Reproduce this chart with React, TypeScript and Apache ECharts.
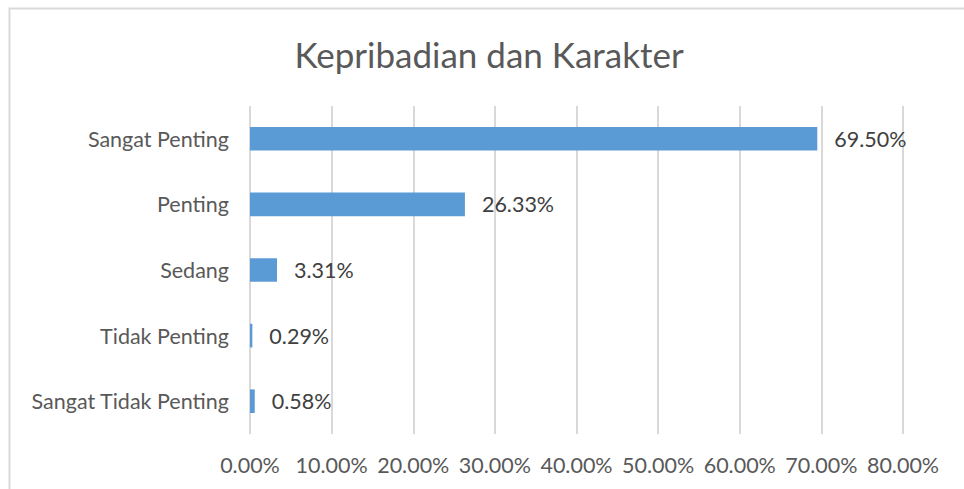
import React, { useEffect, useRef } from "react";
import * as echarts from "echarts";

const categories = ["Sangat Penting", "Penting", "Sedang", "Tidak Penting", "Sangat Tidak Penting"];
const values = [69.5, 26.33, 3.31, 0.29, 0.58];
const titleText = "Kepribadian dan Karakter";

export default function App() {
  const ref = useRef<HTMLDivElement>(null);
  useEffect(() => {
    if (!ref.current) return;
    const chart = echarts.init(ref.current, undefined, { renderer: "svg" });
    const font = "Lato, 'Open Sans', sans-serif";
    chart.setOption({
      animation: false,
      backgroundColor: "#ffffff",
      title: {
        text: titleText,
        left: 484,
        top: 31,
        textAlign: "center",
        textStyle: { fontFamily: font, fontSize: 35, fontWeight: "normal", color: "#595959" },
      },
      graphic: [
        {
          type: "rect",
          shape: { x: 9.5, y: 8.5, width: 1000, height: 1000 },
          style: { fill: "none", stroke: "#d9d9d9", lineWidth: 2 },
          silent: true,
        },
      ],
      grid: { left: 250, right: 61, top: 106, bottom: 55, containLabel: false },
      xAxis: {
        type: "value",
        min: 0,
        max: 80,
        interval: 10,
        axisLine: { show: false },
        axisTick: { show: false },
        splitLine: { show: true, lineStyle: { color: "#d9d9d9", width: 2 } },
        axisLabel: {
          formatter: (v: number) => v.toFixed(2) + "%",
          fontFamily: font,
          fontSize: 21.5,
          color: "#595959",
          margin: 20,
        },
      },
      yAxis: {
        type: "category",
        data: categories,
        inverse: true,
        axisLine: { show: false },
        axisTick: { show: false },
        splitLine: { show: false },
        axisLabel: {
          fontFamily: font,
          fontSize: 21.5,
          color: "#595959",
          margin: 21,
          padding: [3, 0, 0, 0],
        },
      },
      series: [
        {
          type: "bar",
          data: values,
          barCategoryGap: "64%",
          itemStyle: { color: "#5b9bd5" },
          label: {
            show: true,
            position: "right",
            distance: 17,
            padding: [3, 0, 0, 0],
            formatter: (p: any) => p.value.toFixed(2) + "%",
            fontFamily: font,
            fontSize: 21.5,
            color: "#404040",
          },
        },
      ],
    });
    return () => chart.dispose();
  }, []);
  return (
    <div
      ref={ref}
      style={{ position: "absolute", left: 0, top: 0, width: 964, height: 489 }}
    />
  );
}
